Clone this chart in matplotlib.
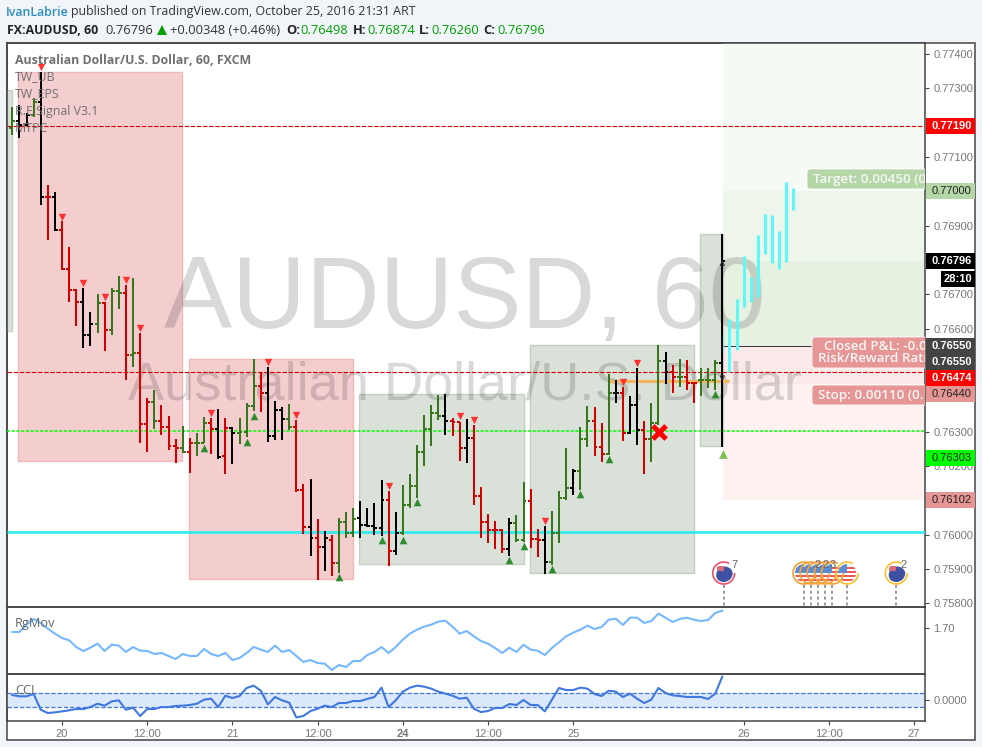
import matplotlib
matplotlib.use('Agg')
import matplotlib.pyplot as plt
from matplotlib.patches import Rectangle, FancyBboxPatch, Circle, Wedge
from matplotlib.transforms import Affine2D

W, H = 982, 747

# bars, x is hours from the 20th 00:00
bar_index = list(range(-7, 94))
bar_color = list('gkkgkrk' 'rrrkkgrgg' 'rgrrgrrrgrggrkr' 'kgggrkkkgrrkrkr' 'gggkkkkrkgggggg'
                 'krrkrrrrrkggrrk' 'gggkggrrgkrkkrg' 'gkrgrrgggk')

bar_open = [.77184,.77205,.77193,.77222,.77260,.76983,.76983,.76887,.76774,.76713,.76678,.76581,.76613,.76675,
            .76596,.76710,.76704,.76523,.76529,.76322,.76386,.76331,.76313,.76258,.76252,.76241,.76267,.76267,
            .76325,.76308,.76229,.76311,.76296,.76299,.76375,.76433,.76412,.76287,.76363,.76337,.76313,.76130,
            .76022,.75990,.75964,.75984,.75917,.76037,.76005,.76048,.76028,.76025,.76019,.76101,.75952,.76005,
            .76086,.76142,.76241,.76308,.76354,.76345,.76331,.76328,.76252,.76281,.76112,.76037,.76013,.76013,
            .75958,.76034,.75984,.76098,.75987,.75984,.75920,.76005,.76107,.76136,.76185,.76278,.76331,.76255,
            .76235,.76412,.76412,.76296,.76378,.76305,.76278,.76325,.76506,.76474,.76459,.76459,.76442,.76450,
            .76450,.76450,.76500]
bar_high = [.77246,.77251,.77228,.77272,.77348,.77018,.76998,.76914,.76838,.76715,.76718,.76648,.76701,.76678,
            .76718,.76753,.76727,.76747,.76587,.76398,.76421,.76378,.76345,.76278,.76316,.76281,.76296,.76343,
            .76340,.76366,.76340,.76313,.76340,.76383,.76512,.76471,.76488,.76389,.76372,.76380,.76334,.76147,
            .76162,.76045,.76010,.75999,.76048,.76066,.76077,.76098,.76077,.76092,.76159,.76127,.76066,.76145,
            .76177,.76261,.76348,.76378,.76407,.76410,.76340,.76328,.76337,.76319,.76139,.76060,.76040,.76016,
            .76048,.76057,.76153,.76133,.76016,.76025,.76069,.76127,.76252,.76191,.76313,.76375,.76372,.76325,
            .76468,.76450,.76430,.76404,.76485,.76331,.76383,.76552,.76532,.76494,.76512,.76509,.76442,.76485,
            .76485,.76509,.76876]
bar_low = [.77164,.77155,.77190,.77216,.76960,.76858,.76884,.76771,.76678,.76608,.76544,.76549,.76587,.76535,
           .76581,.76657,.76450,.76488,.76267,.76241,.76308,.76290,.76246,.76209,.76238,.76179,.76229,.76267,
           .76235,.76220,.76177,.76206,.76264,.76284,.76360,.76357,.76270,.76276,.76276,.76305,.76124,.76002,
           .75938,.75868,.75894,.75879,.75888,.75990,.75993,.75990,.76022,.75999,.75996,.75909,.75941,.75999,
           .76077,.76107,.76200,.76258,.76334,.76290,.76287,.76214,.76209,.76086,.75990,.75976,.75958,.75946,
           .75938,.75978,.75978,.75961,.75935,.75885,.75911,.75976,.76101,.76115,.76130,.76255,.76229,.76211,
           .76232,.76383,.76273,.76293,.76261,.76177,.76211,.76319,.76439,.76412,.76430,.76421,.76383,.76404,
           .76427,.76421,.76255]
bar_close = [.77205,.77193,.77222,.77260,.76983,.76983,.76887,.76774,.76713,.76678,.76581,.76613,.76675,.76596,
             .76710,.76704,.76523,.76529,.76322,.76386,.76331,.76313,.76258,.76252,.76241,.76267,.76267,.76325,
             .76308,.76226,.76311,.76296,.76299,.76375,.76433,.76412,.76287,.76363,.76337,.76313,.76130,.76022,
             .75990,.75964,.75990,.75917,.76037,.76005,.76045,.76028,.76025,.76019,.76101,.75952,.76005,.76086,
             .76142,.76241,.76308,.76354,.76345,.76331,.76328,.76252,.76281,.76112,.76037,.76013,.76013,.75958,
             .76034,.75984,.76098,.75987,.75984,.75920,.76005,.76107,.76136,.76185,.76278,.76331,.76255,.76235,
             .76412,.76412,.76296,.76378,.76305,.76278,.76325,.76506,.76474,.76459,.76459,.76442,.76442,.76450,
             .76450,.76500,.76796]

# projected bars after the last close
proj_index = [93, 94, 95, 96, 97, 98, 99, 100, 101, 102, 103]
proj_high = [.76584,.76628,.76686,.76812,.76750,.76873,.76934,.76931,.76884,.77027,.77010]
proj_low = [.76530,.76474,.76538,.76663,.76678,.76692,.76817,.76791,.76774,.76794,.76946]

# shaded regions: first bar, last bar, top price, bottom price
red_box_x0 = [-6.2, 17.9]
red_box_x1 = [16.9, 41.0]
red_box_top = [.77348, .76512]
red_box_bottom = [.76214, .75871]
green_box_x0 = [-7.8, 41.8, 65.9, 89.9]
green_box_x1 = [-7.0, 65.1, 89.0, 93.1]
green_box_top = [.77295, .76410, .76552, .76876]
green_box_bottom = [.76593, .75914, .75888, .76258]

# signal triangles
sell_index = [-3, 0, 3, 6, 9, 11, 21, 29, 33, 46, 56, 58, 68, 79, 81]
sell_price = [.77362,.76925,.76733,.76692,.76742,.76602,.76354,.76503,.76348,.76142,.76345,.76334,.76040,.76445,.76500]
buy_index = [20, 26, 27, 39, 45, 48, 50, 63, 65, 69, 73, 77, 92]
buy_price = [.76252,.76270,.76345,.75877,.75984,.75984,.76095,.75926,.75967,.75900,.76118,.76220,.76410]

# indicator panels
rgmov = [1.674,1.674,1.718,1.752,1.728,1.694,1.664,1.638,1.624,1.584,1.560,1.580,1.604,1.560,1.598,1.592,1.554,
         1.584,1.562,1.560,1.542,1.548,1.530,1.512,1.542,1.530,1.530,1.572,1.542,1.530,1.548,1.506,1.518,1.548,
         1.584,1.568,1.554,1.592,1.554,1.566,1.530,1.494,1.506,1.488,1.484,1.446,1.476,1.464,1.500,1.500,1.536,
         1.554,1.584,1.548,1.584,1.628,1.664,1.688,1.706,1.718,1.736,1.742,1.706,1.664,1.680,1.648,1.620,1.604,
         1.578,1.548,1.580,1.554,1.598,1.568,1.562,1.536,1.578,1.612,1.648,1.670,1.688,1.712,1.692,1.704,1.748,
         1.754,1.716,1.760,1.760,1.728,1.740,1.784,1.760,1.734,1.752,1.760,1.748,1.740,1.746,1.788,1.802]
cci = [78,59,59,93,-137,-185,-176,-161,-146,-127,-127,-98,-49,-78,-15,0,-137,-107,-229,-127,-127,-98,-98,-83,-78,
       -68,-49,10,24,-98,68,34,63,180,215,141,-59,49,0,-34,-249,-229,-156,-122,-78,-98,-39,-39,-10,-10,20,49,185,
       -98,0,127,185,215,200,171,127,98,68,24,39,-122,-171,-156,-112,-112,-54,-68,5,-68,-68,-161,10,180,151,151,
       185,171,93,63,141,127,49,98,24,-39,10,180,107,73,63,49,49,49,20,98,346]

# hour ticks along the bottom
time_ticks = [0, 12, 24, 36, 48, 60, 72, 96, 108, 120]
time_labels = ['20', '12:00', '21', '12:00', '24', '12:00', '25', '26', '12:00', '27']

price_ticks = [.774, .773, .772, .771, .770, .769, .768, .767, .766, .765, .764, .763, .762, .761, .760, .759, .758]
# these sit fully under a tag on the price scale
price_hidden = [.772, .770, .768, .765, .764, .761]

# position tool levels
level_target = .77000
level_close = .76796
level_entry = .76550
level_stop = .76440
level_limit = .76102
level_red_1 = .77190
level_red_2 = .76474
level_green = .76303
level_cyan = .76008
level_orange = .76447

# labels on the price scale: text, price, background, text colour
tag_text = ['0.77190', '0.77000', '0.76796', '0.76550', '0.76550', '0.76474', '0.76440', '0.76303', '0.76102']
tag_price = [.77190, .77001, .76796, .76549, .76503, .76456, .76410, .76223, .76101]
tag_bg = ['#ff0000', '#b5d7a8', '#000000', '#444444', '#444444', '#ff0000', '#e79696', '#00ff00', '#e79696']
tag_fg = ['white', '#222222', 'white', 'white', 'white', 'white', '#222222', '#222222', '#222222']

event_index = [93.2, 104.5, 105.5, 106.5, 107.5, 108.5, 110.6, 117.5]
event_price = .75888
event_kind = ['au', 'us', 'us', 'us', 'us', 'us', 'us', 'au']
event_ring = ['#f0506e', '#f7a233', '#f7a233', '#f7a233', '#f7a233', '#f7a233', '#fbc02d', '#fbc02d']

RED, GREEN, BLACK = '#d40000', '#38761d', '#000000'
color_map = {'r': RED, 'g': GREEN, 'k': BLACK}
TXT = '#787878'
DARK = '#444444'
ui_font = ['Open Sans', 'DejaVu Sans']
num_font = ['Liberation Sans', 'DejaVu Sans']

fig = plt.figure(figsize=(W / 100, H / 100), dpi=100, facecolor='#f1f5f9')
# pixel transform: x right, y down, same as the screenshot
px = Affine2D().scale(1, -1).translate(0, H)


def add_axes_px(x0, y0, x1, y1):
    return fig.add_axes([x0 / W, 1 - y1 / H, (x1 - x0) / W, (y1 - y0) / H])


def fig_text(x, y, s, **kw):
    kw.setdefault('va', 'center')
    kw.setdefault('family', ui_font)
    return fig.text(x, y, s, transform=px, **kw)


fig.add_artist(Rectangle((6.5, 43), 968.5, 697, transform=px, facecolor='white', edgecolor=DARK, lw=1.1, zorder=-5))

ax = add_axes_px(6.5, 43, 925, 607)
ax_rg = add_axes_px(6.5, 607, 925, 674)
ax_cci = add_axes_px(6.5, 674, 925, 721)

xlim = (-7.82, 121.55)
ax.set_xlim(xlim)
ax.set_ylim(.75789, .77432)
ax_rg.set_xlim(xlim)
ax_rg.set_ylim(1.422, 1.824)
ax_cci.set_xlim(xlim)
ax_cci.set_ylim(-302, 385)

for a in (ax, ax_rg, ax_cci):
    a.patch.set_alpha(0)
    for side in a.spines:
        a.spines[side].set_color(DARK)
        a.spines[side].set_linewidth(1.1)
    a.yaxis.tick_right()
    a.set_xticks([])

# position tool zones, behind everything
right_edge = xlim[1]
zones = [(level_target, .77432, '#f5faf4'), (level_close, level_target, '#eef5ea'),
         (level_entry, level_close, '#e7f1e2'), (level_stop, level_entry, '#fae9e9'),
         (level_limit, level_stop, '#fdf2f0')]
for lo, hi, col in zones:
    ax.add_patch(Rectangle((93.1, lo), right_edge - 93.1, hi - lo, facecolor=col, edgecolor='none', zorder=1))

for i in range(len(red_box_x0)):
    ax.add_patch(Rectangle((red_box_x0[i], red_box_bottom[i]), red_box_x1[i] - red_box_x0[i],
                           red_box_top[i] - red_box_bottom[i], facecolor='#f4cdcf', edgecolor='#efb9b9', lw=1, zorder=2))
for i in range(len(green_box_x0)):
    ax.add_patch(Rectangle((green_box_x0[i], green_box_bottom[i]), green_box_x1[i] - green_box_x0[i],
                           green_box_top[i] - green_box_bottom[i], facecolor='#d9e1d8', edgecolor='#c5d0c3', lw=1, zorder=2))

# big watermark
ax.text(465, 328, 'AUDUSD, 60', transform=px, fontsize=73.5, color='black', alpha=0.15, ha='center', va='baseline',
        family='Liberation Sans', zorder=3, clip_on=True)
ax.text(465, 400, 'Australian Dollar/U.S. Dollar', transform=px, fontsize=39, color='black', alpha=0.15, ha='center',
        va='baseline', family='Liberation Sans', zorder=3, clip_on=True)

ax.hlines([level_red_1, level_red_2], xlim[0], xlim[1], color='#d40000', lw=0.8, linestyles=(0, (4, 1.5)), zorder=4)
ax.hlines(level_green, xlim[0], xlim[1], color='#00ff00', lw=1.1, linestyles=(0, (2, 1.1)), zorder=4)
ax.hlines(level_cyan, xlim[0], xlim[1], color='#22eeee', lw=2, alpha=0.9, zorder=4)
ax.hlines(level_orange, 77, 94, color='#f2b45c', lw=2.2, zorder=5)
ax.hlines(level_entry, 93.1, 106, color='#333333', lw=0.7, zorder=5)

ax.vlines(proj_index, proj_low, proj_high, color='#5ff7f7', lw=2.2, zorder=5)

colors = [color_map[c] for c in bar_color]
ax.vlines(bar_index, bar_low, bar_high, colors=colors, lw=1.4, zorder=6, antialiased=False)
ax.hlines(bar_open, [i - 0.42 for i in bar_index], bar_index, colors=colors, lw=1.4, zorder=6, antialiased=False)
ax.hlines(bar_close, bar_index, [i + 0.42 for i in bar_index], colors=colors, lw=1.4, zorder=6, antialiased=False)

ax.scatter(sell_index, sell_price, marker='v', s=28, color='#ff3030', linewidths=0, zorder=7)
ax.scatter(buy_index, buy_price, marker='^', s=30, color='#2e8b2e', linewidths=0, zorder=7)
ax.scatter([93.1], [.76235], marker='^', s=40, color='#7cc152', linewidths=0, zorder=7)
ax.scatter([93], [.76790], marker='^', s=10, facecolors='none', edgecolors='#333333', linewidths=0.6, zorder=7)
ax.scatter([93], [.76456], marker='v', s=10, facecolors='none', edgecolors='#333333', linewidths=0.6, zorder=7)
ax.scatter([84.1], [.76299], marker='x', s=90, color='#ff0000', linewidths=3.6, zorder=8)

# price scale
ax.set_yticks(price_ticks)
ax.set_yticklabels(['' if p in price_hidden else '%.5f' % p for p in price_ticks],
                   family=num_font, fontsize=8, color=TXT)
ax.tick_params(axis='y', length=3, width=0.8, color=DARK, pad=3)

fig.canvas.draw()


def price_y(p):
    return H - ax.transData.transform((0, p))[1]


# tool labels, cut off by the axis like in the screenshot
for x0, y0, x1, y1, col in [(807, 169, 940, 189, '#b5d7a8'), (812, 337, 940, 368, '#e79696'),
                            (812, 385, 940, 405, '#e79696')]:
    box = FancyBboxPatch((x0 + 2, y0 + 2), x1 - x0 - 4, y1 - y0 - 4, boxstyle='round,pad=2,rounding_size=3',
                         transform=px, facecolor=col, edgecolor='white', lw=0.6, zorder=9)
    ax.add_patch(box)
for x, y, s in [(813, 179, 'Target: 0.00450 (0.59%)'), (824, 346, 'Closed P&L: -0.00038'),
                (818, 358, 'Risk/Reward Ratio: 4.09'), (818, 395, 'Stop: 0.00110 (0.14%)')]:
    ax.text(x, y, s, transform=px, fontsize=9.6, color='#f7f7f7', weight='semibold', family=ui_font,
            va='center', zorder=10, clip_on=True)

# labels on the price scale
for s, p, bg, fg in zip(tag_text, tag_price, tag_bg, tag_fg):
    y = price_y(p)
    fig.add_artist(Rectangle((925.5, y - 8), 49, 16, transform=px, facecolor=bg, edgecolor='none', zorder=11))
    fig_text(932, y, s, fontsize=8, color=fg, family=num_font, zorder=12,
             weight='bold' if fg == 'white' else 'normal')
y = price_y(.76745)
fig.add_artist(Rectangle((941, y - 8), 34, 16, transform=px, facecolor='black', edgecolor='none', zorder=11))
fig_text(944, y, '28:10', fontsize=8, color='white', weight='bold', family=num_font, zorder=12)

# news badges
for ex, kind, ring in zip(event_index, event_kind, event_ring):
    cx, cy = ax.transData.transform((ex, event_price))
    cy = H - cy
    ax.plot([cx, cx], [cy + 12, 607], transform=px, color='#999999', lw=1.4, ls=(0, (1.5, 1.5)), zorder=6)
    disc = Circle((cx, cy), 9, transform=px, facecolor='white', edgecolor='none', zorder=7)
    ax.add_patch(disc)
    if kind == 'au':
        low = Circle((cx + 1, cy + 2), 8.5, transform=px, facecolor='#3f51a3', edgecolor='none', zorder=7.2)
        ax.add_patch(low)
        low.set_clip_path(disc)
        flag = Rectangle((cx - 7, cy - 7), 7, 5, transform=px, facecolor='#d9697d', edgecolor='none', zorder=7.4)
    else:
        for k in range(4):
            st = Rectangle((cx - 9.5, cy - 6 + 4 * k), 19, 2.2, transform=px, facecolor='#ee5a5a', edgecolor='none', zorder=7.2)
            ax.add_patch(st)
            st.set_clip_path(disc)
        flag = Rectangle((cx - 9, cy - 9), 9, 9, transform=px, facecolor='#5b8bd0', edgecolor='none', zorder=7.4)
    ax.add_patch(flag)
    flag.set_clip_path(disc)
    ax.add_patch(Wedge((cx, cy), 11.8, 0, 300, width=1.7, transform=px, facecolor=ring, edgecolor='none', zorder=7.6))

for x, s in [(734, '7'), (818, '2'), (826, '2'), (833, '3'), (904, '2')]:
    fig_text(x, 565, s, fontsize=8, color='#666666', ha='center', family=num_font, zorder=12)

# RgMov panel
ax_rg.plot(bar_index, rgmov, color='#75b8ff', lw=1.5, zorder=3)
ax_rg.set_yticks([1.70])
ax_rg.set_yticklabels(['1.70'], family=num_font, fontsize=8, color=TXT)
ax_rg.tick_params(axis='y', length=3, width=0.8, color=DARK, pad=3)

# CCI panel
ax_cci.axhspan(-100, 100, facecolor='#dce8fb', edgecolor='none', zorder=1)
ax_cci.hlines([-100, 100], xlim[0], xlim[1], color='#3f78de', lw=0.9, linestyles=(0, (3.5, 1.5)), zorder=2)
ax_cci.plot(bar_index, cci, color='#3f78de', lw=1.5, zorder=3)
ax_cci.set_yticks([0])
ax_cci.set_yticklabels(['0.0000'], family=num_font, fontsize=8, color=TXT)
ax_cci.tick_params(axis='y', length=3, width=0.8, color=DARK, pad=3)
ax_cci.set_xticks(time_ticks)
ax_cci.set_xticklabels(time_labels, family=num_font, fontsize=8, color=TXT)
ax_cci.tick_params(axis='x', length=3, width=0.8, color=DARK, pad=3)
ax_cci.get_xticklabels()[4].set_fontweight('bold')

# panel captions
fig_text(15, 60, 'Australian Dollar/U.S. Dollar, 60, FXCM', fontsize=8.9, color='#707070', weight='bold', zorder=13)
for y, s in [(77, 'TW_UB'), (94, 'TW_EPS'), (111, 'R.E.Signal V3.1'), (129, 'MTPC')]:
    fig_text(15, y, s, fontsize=8.9, color='#707070', zorder=13)
fig_text(15, 624, 'RgMov', fontsize=9.2, color='#666666', zorder=13)
fig_text(15, 691, 'CCI', fontsize=9.2, color='#666666', zorder=13)

# header lines
fig_text(6, 12, 'IvanLabrie', fontsize=8.9, color='#2e8fc5', weight='semibold')
fig_text(71, 12, 'published on TradingView.com, October 25, 2016 21:31 ART', fontsize=8.9, color='#333333')
fig_text(7, 30, 'FX:AUDUSD, 60', fontsize=8.9, color='#222222', weight='bold')
fig_text(105, 30, '0.76796', fontsize=9.3, color='#333333')
fig.add_artist(plt.Polygon([(157, 35), (167, 35), (162, 25)], transform=px, facecolor='#00a000', edgecolor='none'))
fig_text(170, 30, '+0.00348 (+0.46%)', fontsize=9.4, color='#333333')
for x, s, bold in [(286, 'O:', True), (300, '0.76498', False), (353, 'H:', True), (367, '0.76874', False),
                   (419, 'L:', True), (431, '0.76260', False), (483, 'C:', True), (497, '0.76796', False)]:
    fig_text(x, 30, s, fontsize=9.3, color='#222222' if bold else '#00a000', weight='bold' if bold else 'normal')

fig.savefig('out.png', dpi=100)
